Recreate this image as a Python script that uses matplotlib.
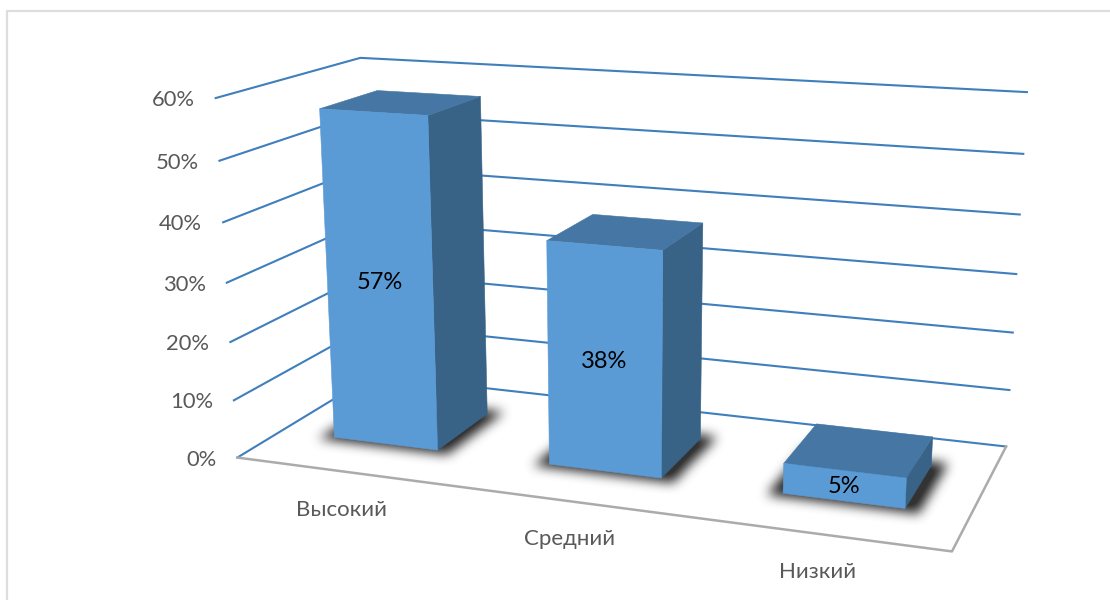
#!/usr/bin/env python3
"""
3D column chart drawn on a flat axes with a fitted camera matrix
"""

import numpy as np
import matplotlib
matplotlib.use("Agg")
import matplotlib.pyplot as plt
from matplotlib.path import Path

plt.rcParams['font.family'] = ['Lato', 'Open Sans', 'DejaVu Sans']

# Data
categories = ['Высокий', 'Средний', 'Низкий']
values = [56.6, 37.7, 5.0]
data_labels = ['57%', '38%', '5%']
axis_ticks = [0, 10, 20, 30, 40, 50, 60]
tick_labels = ['0%', '10%', '20%', '30%', '40%', '50%', '60%']

# Colours
FRONT = '#5B9BD5'
TOP = '#4676A3'
SIDE = '#386387'
GRID = '#3F7FBB'
FLOOR_EDGE = '#ABABAB'
TEXT = '#595959'

BAR_WIDTH = 0.49
BAR_SHIFT = 0.003
DEPTH_FRONT = 0.30
DEPTH_BACK = 0.72

# Box corners (category pos, depth, value) -> where they land in the picture
CALIB = [
    ((0, 0, 0), (237, 458)),
    ((0, 0, 60), (216, 98)),
    ((0, 1, 0), (373, 375)),
    ((0, 1, 60), (360, 58)),
    ((3, 1, 0), (1006, 447)),
    ((3, 1, 60), (1027, 92)),
    ((3, 0, 0), (952, 551)),
]


def fit_camera(pairs):
    """Least squares fit of a 3x4 projective matrix"""
    rows = []
    rhs = []
    for (x, y, z), (u, v) in pairs:
        rows.append([x, y, z, 1, 0, 0, 0, 0, -u * x, -u * y, -u * z])
        rhs.append(u)
        rows.append([0, 0, 0, 0, x, y, z, 1, -v * x, -v * y, -v * z])
        rhs.append(v)
    sol = np.linalg.lstsq(np.array(rows, float), np.array(rhs, float), rcond=None)[0]
    return np.append(sol, 1).reshape(3, 4)


CAM = fit_camera(CALIB)


def project(x, y, z):
    p = CAM @ np.array([x, y, z, 1.0])
    return p[0] / p[2], p[1] / p[2]


def box_blur(img, radius):
    size = 2 * radius + 1
    kernel = np.ones(size) / size
    for _ in range(3):
        img = np.apply_along_axis(lambda r: np.convolve(r, kernel, mode='same'), 0, img)
        img = np.apply_along_axis(lambda r: np.convolve(r, kernel, mode='same'), 1, img)
    return img


def draw_shadows(ax):
    """Soft dark patch on the floor under each column"""
    xx, yy = np.meshgrid(np.arange(1110) + 0.5, np.arange(600) + 0.5)
    pts = np.column_stack([xx.ravel(), yy.ravel()])
    mask = np.zeros(xx.shape)
    for i in range(len(values)):
        mid = i + 0.5 + BAR_SHIFT
        x0 = mid - BAR_WIDTH / 2 - 0.055
        x1 = mid + BAR_WIDTH / 2 + 0.06
        y0 = DEPTH_FRONT - 0.03
        y1 = DEPTH_BACK + 0.04
        poly = [project(x0, y0, 0), project(x1, y0, 0), project(x1, y1, 0), project(x0, y1, 0)]
        mask[Path(poly).contains_points(pts).reshape(xx.shape)] = 1
    mask = box_blur(mask, 5)
    rgba = np.zeros(xx.shape + (4,))
    rgba[..., :3] = 0.2
    rgba[..., 3] = np.clip(mask * 1.1, 0, 1)
    ax.imshow(rgba, extent=(0, 1110, 600, 0), zorder=2, interpolation='bilinear', aspect='auto')


def draw_column(ax, i, value):
    mid = i + 0.5 + BAR_SHIFT
    x0 = mid - BAR_WIDTH / 2
    x1 = mid + BAR_WIDTH / 2
    y0, y1 = DEPTH_FRONT, DEPTH_BACK
    faces = [
        ([(x1, y0, 0), (x1, y1, 0), (x1, y1, value), (x1, y0, value)], SIDE),
        ([(x0, y0, value), (x1, y0, value), (x1, y1, value), (x0, y1, value)], TOP),
        ([(x0, y0, 0), (x1, y0, 0), (x1, y0, value), (x0, y0, value)], FRONT),
    ]
    for corners, color in faces:
        poly = [project(*c) for c in corners]
        ax.fill(*zip(*poly), color=color, lw=0.4, zorder=3 + i * 0.1)


def main():
    fig = plt.figure(figsize=(11.1, 6), dpi=100)
    ax = fig.add_axes([0, 0, 1, 1])

    # Light outer frame, cut by the picture edge
    ax.plot([7, 7, 1110], [600, 11, 11], color='#DDDDDD', lw=1.6, zorder=1)

    # Gridlines on the side and back wall
    for tick, label in zip(axis_ticks, tick_labels):
        a = project(0, 0, tick)
        b = project(0, 1, tick)
        c = project(3, 1, tick)
        ax.plot([a[0], b[0], c[0]], [a[1], b[1], c[1]], color=GRID, lw=1.5, zorder=1.5,
                solid_joinstyle='miter')
        ax.text(a[0] - 21, a[1] + 2, label, ha='right', va='center', color=TEXT, fontsize=15.8)

    # Floor edges
    f0 = project(0, 0, 0)
    f1 = project(3, 0, 0)
    f2 = project(3, 1, 0)
    ax.plot([f0[0], f1[0], f2[0]], [f0[1], f1[1], f2[1]], color=FLOOR_EDGE, lw=1.8, zorder=1.6)

    draw_shadows(ax)

    for i, value in enumerate(values):
        draw_column(ax, i, value)
        cx, cy = project(i + 0.5 + BAR_SHIFT, DEPTH_FRONT, value / 2)
        ax.text(cx, cy + 1, data_labels[i], ha='center', va='center', color='black',
                fontsize=17, zorder=5)

    # Category labels sit just under the front edge of the floor
    for i, name in enumerate(categories):
        fx, fy = project(i + 0.5, 0, 0)
        ax.text(fx - 2, fy + 38, name, ha='center', va='center', color=TEXT, fontsize=16)

    ax.set_xlim(0, 1110)
    ax.set_ylim(600, 0)
    ax.axis('off')
    fig.savefig('out.png', dpi=100, facecolor='white')


if __name__ == "__main__":
    main()
